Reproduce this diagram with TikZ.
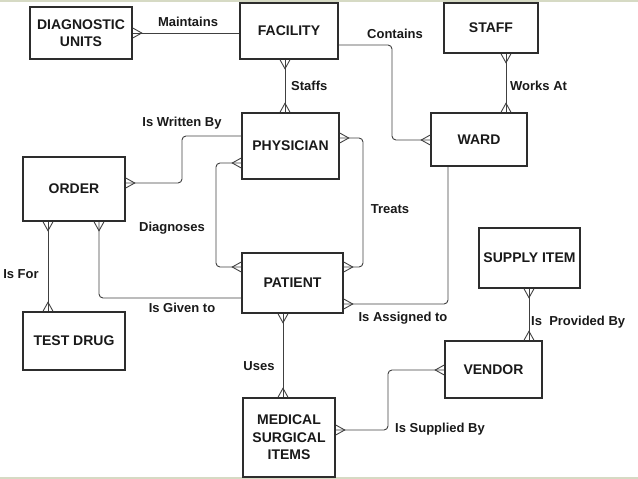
\documentclass[tikz,border=0pt]{standalone}
\usepackage{fontspec}
\setmainfont{Liberation Sans}
\usepackage{tikz}
\usetikzlibrary{arrows.meta, positioning, calc}
\definecolor{edgegray}{RGB}{45,45,45}
\definecolor{framegreen}{RGB}{214,218,196}

\pgfdeclarearrow{
  name = Crow,
  parameters = {\the\pgfarrowlength,\the\pgfarrowwidth},
  setup code = {
    \pgfarrowssettipend{0pt}
    \pgfarrowssetlineend{0pt}
    \pgfarrowssetbackend{-\pgfarrowlength}
    \pgfarrowssetvisualbackend{-\pgfarrowlength}
    \pgfarrowssavethe\pgfarrowlength
    \pgfarrowssavethe\pgfarrowwidth
  },
  drawing code = {
    \pgfsetdash{}{0pt}
    \pgfpathmoveto{\pgfqpoint{0pt}{.5\pgfarrowwidth}}
    \pgfpathlineto{\pgfqpoint{-\pgfarrowlength}{0pt}}
    \pgfpathlineto{\pgfqpoint{0pt}{-.5\pgfarrowwidth}}
    \pgfusepathqstroke
  },
  defaults = {length = 9pt, width = 10pt}
}

\begin{document}
\begin{tikzpicture}[
    x=1pt, y=-1pt,
    entity/.style={rectangle, draw=edgegray, line width=1.5pt, inner sep=0pt, align=center, text=black!90, font=\fontsize{14}{17.5}\selectfont\bfseries},
    lbl/.style={inner sep=0pt, text=black!90, font=\fontsize{13}{15}\selectfont\bfseries},
    rel/.style={draw=black!75, line width=0.9pt, rounded corners=4pt},
    many/.style={-Crow},
    manymany/.style={Crow-Crow},
]
\useasboundingbox (0,0) rectangle (638,479);
\draw[framegreen, line width=2pt] (0,0.5) -- (638,0.5) (0,478) -- (638,478);

\node[entity, minimum width=102, minimum height=52] (diag) at (81,33) {DIAGNOSTIC\\UNITS};
\node[entity, minimum width=98, minimum height=56] (fac) at (289,31) {FACILITY};
\node[entity, minimum width=94, minimum height=50] (staff) at (491,28) {STAFF};
\node[entity, minimum width=96, minimum height=53] (ward) at (479,139.5) {WARD};
\node[entity, minimum width=97, minimum height=66] (phys) at (290.5,146) {PHYSICIAN};
\node[entity, minimum width=102, minimum height=64] (order) at (74,189) {ORDER};
\node[entity, minimum width=101, minimum height=60] (patient) at (292.5,283) {PATIENT};
\node[entity, minimum width=102, minimum height=58] (drug) at (74,341) {TEST DRUG};
\node[entity, minimum width=101, minimum height=60] (supply) at (529.5,258) {SUPPLY ITEM};
\node[entity, minimum width=97, minimum height=57] (vendor) at (493.5,369.5) {VENDOR};
\node[entity, minimum width=92, minimum height=79] (medical) at (289,437.5) {MEDICAL\\SURGICAL\\ITEMS};

\draw[rel, many] (fac.west |- 0,33) -- (diag.east |- 0,33);
\draw[rel, manymany] (fac.south -| 285,0) -- (phys.north -| 285,0);
\draw[rel, many] (fac.east |- 0,45) -- (392,45) -- (392,140) -- (ward.west |- 0,140);
\draw[rel, manymany] (staff.south -| 506,0) -- (ward.north -| 506,0);
\draw[rel, many] (phys.west |- 0,136) -- (182,136) -- (182,183) -- (order.east |- 0,183);
\draw[rel, manymany] (phys.west |- 0,163) -- (216,163) -- (216,267) -- (patient.west |- 0,267);
\draw[rel, manymany] (phys.east |- 0,138) -- (363,138) -- (363,267) -- (patient.east |- 0,267);
\draw[rel, many] (ward.south -| 448,0) -- (448,304) -- (patient.east |- 0,304);
\draw[rel, many] (patient.west |- 0,298) -- (99,298) -- (order.south -| 99,0);
\draw[rel, manymany] (order.south -| 48,0) -- (drug.north -| 48,0);
\draw[rel, manymany] (patient.south -| 283,0) -- (medical.north -| 283,0);
\draw[rel, manymany] (supply.south -| 529,0) -- (vendor.north -| 529,0);
\draw[rel, manymany] (vendor.west |- 0,370) -- (388,370) -- (388,430) -- (medical.east |- 0,430);

\node[lbl] (lmaint) at (188,22) {Maintains};
\node[lbl, anchor=west] (lstaffs) at (291,86) {Staffs};
\node[lbl] (lcont) at (395,34) {Contains};
\node[lbl, anchor=west] (lworks) at (510,86) {Works At};
\node[lbl] (lwritten) at (182,123) {Is Written By};
\node[lbl] (ldiag) at (172,228) {Diagnoses};
\node[lbl] (ltreats) at (390,209) {Treats};
\node[lbl] (lassign) at (403,318) {Is Assigned to};
\node[lbl] (lgiven) at (182,308) {Is Given to};
\node[lbl] (lfor) at (21,274) {Is For};
\node[lbl] (luses) at (259,366) {Uses};
\node[lbl, anchor=west] (lprov) at (531,322) {Is~ Provided By};
\node[lbl] (lsupp) at (440,429) {Is Supplied By};
\end{tikzpicture}
\end{document}
